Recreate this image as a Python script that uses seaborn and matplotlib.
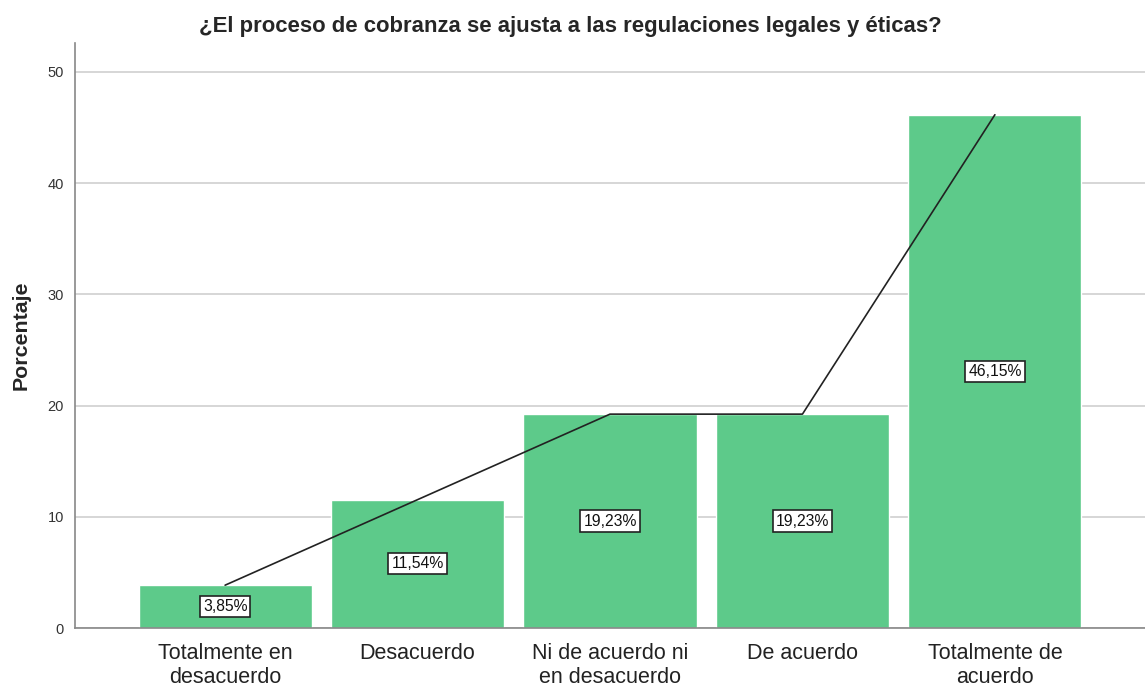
import pandas as pd
import matplotlib
matplotlib.use("Agg")
import matplotlib.pyplot as plt
import seaborn as sns

categorias = ["Totalmente en\ndesacuerdo", "Desacuerdo", "Ni de acuerdo ni\nen desacuerdo",
              "De acuerdo", "Totalmente de\nacuerdo"]
porcentajes = [3.85, 11.54, 19.23, 19.23, 46.15]
etiquetas = ["3,85%", "11,54%", "19,23%", "19,23%", "46,15%"]

df = pd.DataFrame({"cat": categorias, "pct": porcentajes})

sns.set_style("white")
plt.rcParams["font.family"] = ["Liberation Sans", "DejaVu Sans"]

fig = plt.figure(figsize=(11.45, 6.88), dpi=100)
ax = fig.add_axes([0.0655, 0.0872, 0.9345, 0.8503])

ax.yaxis.grid(True, color="#d3d3d3", linewidth=1.3)
ax.set_axisbelow(True)
sns.barplot(data=df, x="cat", y="pct", color="#5dca8a", saturation=1, width=0.9, ax=ax)
ax.plot(range(len(porcentajes)), porcentajes, color="#222222", linewidth=1.2, zorder=3)

for i, (v, t) in enumerate(zip(porcentajes, etiquetas)):
    ax.text(i, v / 2, t, ha="center", va="center", fontsize=11.3, color="#111111", zorder=4,
            bbox=dict(boxstyle="square,pad=0.2", facecolor="white", edgecolor="#222222", linewidth=1.2))

ax.set_ylim(0, 52.6)
ax.set_xlim(-0.78, 4.78)
ax.set_yticks([0, 10, 20, 30, 40, 50])
ax.tick_params(axis="y", labelsize=10.5, length=0, pad=8, colors="#333333")
ax.tick_params(axis="x", labelsize=15.5, length=0, pad=11, colors="#222222")
for lbl in ax.get_xticklabels():
    lbl.set_linespacing(1.2)
ax.set_xlabel("")
ax.set_ylabel("Porcentaje", fontsize=15.4, fontweight="bold", labelpad=12)
for s in ["top", "right"]:
    ax.spines[s].set_visible(False)
for s in ["left", "bottom"]:
    ax.spines[s].set_color("#888888")
    ax.spines[s].set_linewidth(1.2)

fig.text(0.498, 0.962, "¿El proceso de cobranza se ajusta a las regulaciones legales y éticas?",
         ha="center", va="center", fontsize=15.9, fontweight="bold")

fig.savefig("out.png", dpi=100)
